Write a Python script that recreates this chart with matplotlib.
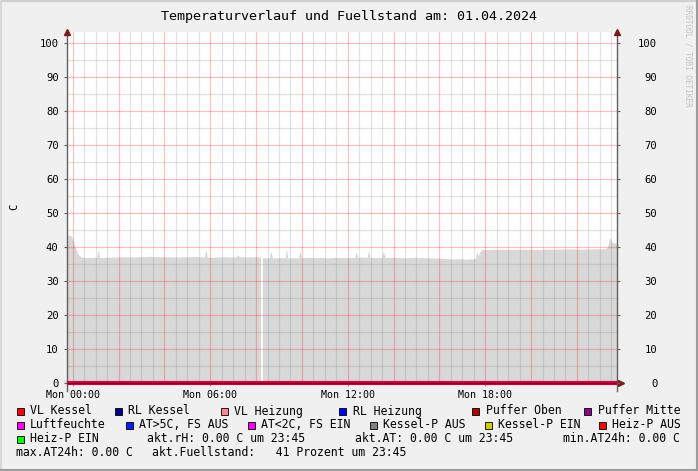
import numpy as np
import matplotlib
matplotlib.use("Agg")
import matplotlib.pyplot as plt
from matplotlib.patches import Rectangle
from matplotlib.lines import Line2D

W, H = 698, 471

title = "Temperaturverlauf und Fuellstand am: 01.04.2024"
y_label = "C"
watermark = "RRDTOOL / TOBI OETIKER"

# hours relative to Mon 00:00, value of the grey area
hours = [-0.25, -0.05, 0.05, 0.12, 0.20, 0.30, 0.40, 0.60, 0.90, 1.07, 1.13, 1.19,
         1.40, 1.80, 2.20, 2.60, 3.00, 3.40, 3.80, 4.20, 4.60, 5.00, 5.40, 5.77, 5.83,
         5.89, 6.10, 6.50, 6.90, 7.16, 7.22, 7.30, 7.60, 8.00, 8.22, 8.24, 8.30, 8.50,
         8.61, 8.67, 8.73, 9.00, 9.29, 9.35, 9.41, 9.60, 9.88, 9.94, 10.00, 10.4, 10.8,
         11.2, 11.6, 12.0, 12.33, 12.39, 12.45, 12.70, 12.87, 12.93, 12.99, 13.20,
         13.52, 13.58, 13.64, 14.0, 14.5, 15.0, 15.5, 16.0, 16.3, 16.6, 16.9, 17.2,
         17.40, 17.59, 17.65, 17.71, 17.78, 17.87, 18.2, 18.7, 19.2, 19.7, 20.2, 20.7,
         21.2, 21.7, 22.2, 22.7, 23.1, 23.30, 23.38, 23.45, 23.52, 23.58, 23.75]
fill_level = [43.4, 43.2, 41.5, 40.0, 38.5, 37.4, 36.9, 36.7, 36.8, 36.8, 39.1, 36.8,
              36.8, 36.9, 37.0, 36.9, 37.0, 37.1, 37.0, 37.0, 36.9, 37.0, 37.1, 36.9, 39.3,
              36.9, 36.8, 37.0, 36.9, 37.0, 37.5, 37.0, 36.9, 37.0, 36.9, np.nan, 36.7, 36.7,
              36.7, 38.8, 36.7, 36.7, 36.7, 39.3, 36.6, 36.7, 36.7, 38.6, 36.7, 36.8, 36.8,
              36.7, 36.8, 36.8, 36.8, 38.6, 36.8, 36.9, 36.8, 39.1, 36.8, 36.8,
              36.8, 38.8, 36.8, 36.8, 36.7, 36.8, 36.7, 36.6, 36.5, 36.3, 36.4, 36.3,
              36.4, 36.5, 38.6, 37.2, 38.4, 39.1, 39.1, 39.2, 39.1, 39.2, 39.1, 39.2,
              39.2, 39.3, 39.2, 39.3, 39.3, 39.4, 40.5, 42.6, 41.8, 41.1, 41.0]
zero_line = [0.0, 0.0]

x_ticks = [0, 6, 12, 18]
x_tick_labels = ["Mon 00:00", "Mon 06:00", "Mon 12:00", "Mon 18:00"]
y_ticks = [0, 10, 20, 30, 40, 50, 60, 70, 80, 90, 100]

legend_rows = [
    [("VL Kessel", "#ff0000", 16.5), ("RL Kessel", "#000080", 115), ("VL Heizung", "#ff8899", 221),
     ("RL Heizung", "#0000ff", 339), ("Puffer Oben", "#aa0000", 472), ("Puffer Mitte", "#880088", 584)],
    [("Luftfeuchte", "#ff00ff", 16.5), ("AT>5C, FS AUS", "#0022ff", 125.5), ("AT<2C, FS EIN", "#ff00ff", 247.5),
     ("Kessel-P AUS", "#808080", 369.5), ("Kessel-P EIN", "#cccc00", 485), ("Heiz-P AUS", "#ff0000", 599)],
    [("Heiz-P EIN", "#00ff00", 16.5)],
]
info_texts = [
    ("akt.rH: 0.00 C um 23:45", 147, 439),
    ("akt.AT: 0.00 C um 23:45", 355, 439),
    ("min.AT24h: 0.00 C", 563, 439),
    ("max.AT24h: 0.00 C", 16.5, 453),
    ("akt.Fuellstand:   41 Prozent um 23:45", 151.5, 453),
]
legend_y = [411, 425, 439]

mono = "DejaVu Sans Mono"


def fx(px):
    return px / W


def fy(py):
    return 1 - py / H


fig = plt.figure(figsize=(W / 100, H / 100), dpi=100)
fig.patch.set_facecolor("#f0f0f0")

# plot area in pixels: x 67..617, y 32..383
ax = fig.add_axes([fx(67), fy(383), fx(617) - fx(67), fy(32) - fy(383)])
ax.set_facecolor("white")
ax.set_xlim(-0.25, 23.75)
ax.set_ylim(0, 351 / 3.4)

ax.fill_between(hours, 0, fill_level, color="#d8d8d8", linewidth=0, zorder=1)

# grid on top of the area, rrdtool style
for h in np.arange(0, 24, 0.5):
    major = (h % 2 == 0)
    ax.axvline(h, color=(1, 0, 0, 0.24) if major else (0.5, 0.5, 0.5, 0.22),
               linewidth=0.9, zorder=2)
for v in range(5, 105, 5):
    major = (v % 10 == 0)
    ax.axhline(v, color=(1, 0, 0, 0.24) if major else (0.5, 0.5, 0.5, 0.22),
               linewidth=0.9, zorder=2)

ax.plot([-0.25, 23.75], zero_line, color="#cc0040", linewidth=3.0,
        solid_capstyle="butt", zorder=4, clip_on=False)
ax.plot([-0.25, 23.75], zero_line, color="#8a0028", linewidth=0.9,
        solid_capstyle="butt", zorder=5, clip_on=False)

for s in ["top", "bottom"]:
    ax.spines[s].set_visible(False)
for s in ["left", "right"]:
    ax.spines[s].set_color("#606060")
    ax.spines[s].set_linewidth(1.0)
    ax.spines[s].set_bounds(-2.3, 351 / 3.4)

ax.set_xticks(x_ticks)
ax.set_xticklabels(x_tick_labels, fontfamily=mono, fontsize=7.2)
ax.tick_params(axis="x", length=2, color="#a08080", pad=3)
ax.set_yticks(y_ticks)
ax.set_yticklabels([str(v) for v in y_ticks], fontfamily=mono, fontsize=7.6)
ax.tick_params(axis="y", length=2, color="#606060", pad=4)

ax2 = ax.twinx()
ax2.set_ylim(ax.get_ylim())
ax2.set_yticks(y_ticks)
ax2.set_yticklabels([str(v) for v in y_ticks], fontfamily=mono, fontsize=7.6, ha="right")
ax2.tick_params(axis="y", length=2, color="#606060", pad=27)
for s in ["top", "bottom", "left", "right"]:
    ax2.spines[s].set_visible(False)

# arrow heads
ax.plot([0], [1.0], transform=ax.transAxes, marker="^", markersize=4.5,
        color="#7a1a1a", clip_on=False, zorder=6)
ax.plot([1], [1.0], transform=ax.transAxes, marker="^", markersize=4.5,
        color="#7a1a1a", clip_on=False, zorder=6)
ax.plot([1.008], [0.0], transform=ax.transAxes, marker=">", markersize=4.5,
        color="#7a1a1a", clip_on=False, zorder=6)

fig.text(fx(349), fy(16.5), title, fontfamily=mono, fontsize=9.6,
         ha="center", va="center")
fig.text(fx(14), fy(207), y_label, fontfamily=mono, fontsize=7.6,
         rotation=90, ha="center", va="center")
fig.text(fx(688), fy(5), watermark, fontfamily=mono, fontsize=5.5,
         rotation=270, ha="center", va="top", color="#c4c4c4")

# legend
for row, yy in zip(legend_rows, legend_y):
    for label, col, px in row:
        fig.patches.append(Rectangle((fx(px), fy(yy + 3.5)), fx(7), 7 / H,
                                     facecolor=col, edgecolor="black", linewidth=0.6,
                                     transform=fig.transFigure, figure=fig))
        fig.text(fx(px + 13.5), fy(yy), label, fontfamily=mono, fontsize=8.3,
                 ha="left", va="center")
for txt, px, py in info_texts:
    fig.text(fx(px), fy(py), txt, fontfamily=mono, fontsize=8.3,
             ha="left", va="center")

# 3d frame of the image
fig.lines.append(Line2D([0, 1], [1 - 1 / H, 1 - 1 / H], color="#cfcfcf", linewidth=1.5,
                        transform=fig.transFigure, figure=fig))
fig.lines.append(Line2D([1 / W, 1 / W], [0, 1], color="#d8d8d8", linewidth=1.5,
                        transform=fig.transFigure, figure=fig))
fig.lines.append(Line2D([1 - 1.5 / W, 1 - 1.5 / W], [0, 1], color="#9c9c9c", linewidth=2.2,
                        transform=fig.transFigure, figure=fig))
fig.lines.append(Line2D([0, 1], [1.5 / H, 1.5 / H], color="#9c9c9c", linewidth=2.2,
                        transform=fig.transFigure, figure=fig))

fig.savefig("out.png", dpi=100, facecolor=fig.get_facecolor())
